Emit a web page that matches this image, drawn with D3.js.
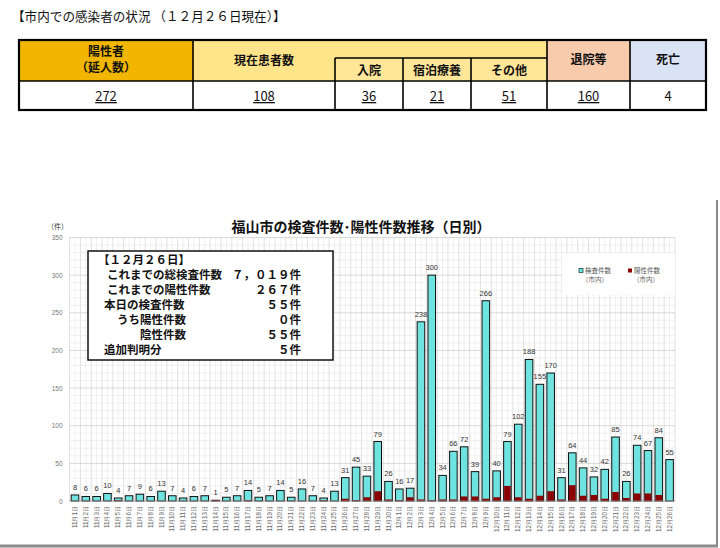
<!DOCTYPE html>
<html><head><meta charset="utf-8">
<script src="https://cdn.jsdelivr.net/npm/d3@7/dist/d3.min.js"></script>
<style>
body{margin:0;background:#fff;}
svg{display:block;font-family:"Noto Sans CJK JP","Noto Sans",sans-serif;}
</style>
</head><body>
<svg id="c" width="720" height="548"></svg>
<script>
// ---- data ----
const dates = ["11月1日","11月2日","11月3日","11月4日","11月5日","11月6日","11月7日","11月8日","11月9日","11月10日",
"11月11日","11月12日","11月13日","11月14日","11月15日","11月16日","11月17日","11月18日","11月19日","11月20日",
"11月21日","11月22日","11月23日","11月24日","11月25日","11月26日","11月27日","11月28日","11月29日","11月30日",
"12月1日","12月2日","12月3日","12月4日","12月5日","12月6日","12月7日","12月8日","12月9日","12月10日",
"12月11日","12月12日","12月13日","12月14日","12月15日","12月16日","12月17日","12月18日","12月19日","12月20日",
"12月21日","12月22日","12月23日","12月24日","12月25日","12月26日"];
const tests = [8,6,6,10,4,7,9,6,13,7,
4,6,7,1,5,7,14,5,7,14,
5,16,7,4,13,31,45,33,79,26,
16,17,238,300,34,66,72,39,266,40,
79,102,188,155,170,31,64,44,32,42,
85,26,74,67,84,55];
const positives = [0,0,0,0,1,0,0,0,0,0,
0,0,0,1,0,0,1,0,0,0,
0,0,0,1,0,3,1,5,13,2,
1,5,2,1,2,2,6,6,3,5,
20,5,3,7,13,2,21,7,8,3,
12,4,10,10,8,0];
const yTicks = [0,50,100,150,200,250,300,350];

const pageTitle = "【市内での感染者の状況 （１２月２６日現在）】";
const tableHeaders = ["陽性者","現在患者数","入院","宿泊療養","その他","退院等","死亡"];
const tableValues = ["272","108","36","21","51","160","4"];

const infoLabels = ["【１２月２６日】","これまでの総検査件数","これまでの陽性件数","本日の検査件数","うち陽性件数","陰性件数","追加判明分"];
const infoValues = ["","７，０１９件","２６７件","５５件","０件","５５件","５件"];
const infoIndent = [98,107,107,104,117,140,104];

const chartTitle = "福山市の検査件数･陽性件数推移（日別）";
const legendNames = ["検査件数","陽性件数"];

// ---- drawing ----
const svg = d3.select("#c");

svg.append("text").attr("x",12).attr("y",21).attr("font-size",12.6).attr("fill","#111").text(pageTitle);

// table
const T = {top:40, sub:58, hdr:81, bot:110};
const cols = [19,193,335,403,471,547,630,706];
const g = svg.append("g");
const cell = (x0,x1,y0,y1,fill)=>g.append("rect").attr("x",x0).attr("y",y0).attr("width",x1-x0).attr("height",y1-y0).attr("fill",fill);
cell(cols[0],cols[1],T.top,T.hdr,"#F2B600");
cell(cols[1],cols[5],T.top,T.hdr,"#FFE48A");
cell(cols[2],cols[5],T.sub,T.hdr,"#FFE699");
cell(cols[5],cols[6],T.top,T.hdr,"#F8CBAD");
cell(cols[6],cols[7],T.top,T.hdr,"#DAE3F3");
cell(cols[0],cols[7],T.hdr,T.bot,"#fff");
const ln = (x1,y1,x2,y2,w)=>g.append("line").attr("x1",x1).attr("y1",y1).attr("x2",x2).attr("y2",y2).attr("stroke","#000").attr("stroke-width",w);
[cols[1],cols[5],cols[6]].forEach(x=>ln(x,T.top,x,T.bot,1.6));
[cols[2],cols[3],cols[4]].forEach(x=>ln(x,T.sub,x,T.bot,1.6));
ln(cols[2],T.sub,cols[5],T.sub,1.6);
ln(cols[0],T.hdr,cols[7],T.hdr,1.6);
g.append("rect").attr("x",cols[0]).attr("y",T.top).attr("width",cols[7]-cols[0]).attr("height",T.bot-T.top)
  .attr("fill","none").attr("stroke","#000").attr("stroke-width",2.2);
const tt = (x,y,s,opt={})=>g.append("text").attr("x",x).attr("y",y).attr("text-anchor","middle")
  .attr("font-size",opt.fs||12).attr("font-weight",opt.fw||"normal").attr("fill","#111")
  .attr("text-decoration",opt.u?"underline":null).text(s);
tt((cols[0]+cols[1])/2,56,tableHeaders[0],{fw:"bold"});
tt((cols[0]+cols[1])/2,72,"（延人数）",{fw:"bold"});
tt((cols[1]+cols[2])/2,65,tableHeaders[1],{fw:"bold"});
tt((cols[2]+cols[3])/2,75,tableHeaders[2],{fw:"bold"});
tt((cols[3]+cols[4])/2,75,tableHeaders[3],{fw:"bold"});
tt((cols[4]+cols[5])/2,75,tableHeaders[4],{fw:"bold"});
tt((cols[5]+cols[6])/2,64,tableHeaders[5],{fw:"bold"});
tt((cols[6]+cols[7])/2,64,tableHeaders[6],{fw:"bold"});
const valX = [(cols[0]+cols[1])/2,(cols[1]+cols[2])/2,(cols[2]+cols[3])/2,(cols[3]+cols[4])/2,(cols[4]+cols[5])/2,(cols[5]+cols[6])/2,(cols[6]+cols[7])/2];
tableValues.forEach((v,i)=>tt(valX[i],101,v,{fs:13,u:i<6}));

// chart
const P = {l:69.6, r:675, t:237.5, b:501};
const x = d3.scaleBand().domain(dates).range([P.l,P.r]).paddingInner(0.3).paddingOuter(0.15);
const y = d3.scaleLinear().domain([0,350]).range([P.b,P.t]);

// grid
const grid = svg.append("g");
const vLines = d3.range(0, dates.length*2+1).map(i=>P.l + i*(P.r-P.l)/(dates.length*2));
grid.selectAll("line.v").data(vLines).join("line").attr("x1",d=>d).attr("x2",d=>d).attr("y1",P.t).attr("y2",P.b)
  .attr("stroke",(d,i)=>i%2===0?"#d8d8d8":"#ececec").attr("stroke-width",0.8);
const hMinor = d3.range(0,351,10);
grid.selectAll("line.h").data(hMinor).join("line").attr("x1",P.l).attr("x2",P.r).attr("y1",d=>y(d)).attr("y2",d=>y(d))
  .attr("stroke",d=>d%50===0?"#cfcfcf":"#ebebeb").attr("stroke-width",0.8);

// y axis labels
const yAxis = d3.axisLeft(y).tickValues(yTicks).tickSize(0).tickPadding(7);
const ya = svg.append("g").attr("transform",`translate(${P.l},0)`).call(yAxis);
ya.select(".domain").remove();
ya.selectAll("text").attr("font-size",6.5).attr("fill","#777").attr("font-family","Liberation Sans, sans-serif");

svg.append("text").attr("x",47).attr("y",229).attr("font-size",7).attr("fill","#333").text("（件）");

// title
svg.append("text").attr("x",361).attr("y",232).attr("text-anchor","middle").attr("font-size",14).attr("font-weight","bold").attr("fill","#111").text(chartTitle);

// legend box
svg.append("rect").attr("x",562).attr("y",253).attr("width",113).attr("height",42).attr("fill","#fff");
const lg = svg.append("g");
lg.append("rect").attr("x",579).attr("y",268.5).attr("width",4).attr("height",4).attr("fill","#6FE3DF").attr("stroke","#1a4a4a").attr("stroke-width",0.8);
lg.append("text").attr("x",585).attr("y",273).attr("font-size",6.5).attr("fill","#555").text(legendNames[0]);
lg.append("text").attr("x",582).attr("y",282).attr("font-size",6.5).attr("fill","#666").text("（市内）");
lg.append("rect").attr("x",628).attr("y",268.5).attr("width",4).attr("height",4).attr("fill","#8B0000");
lg.append("text").attr("x",634).attr("y",273).attr("font-size",6.5).attr("fill","#555").text(legendNames[1]);
lg.append("text").attr("x",633).attr("y",282).attr("font-size",6.5).attr("fill","#666").text("（市内）");

// info box
const ib = svg.append("g");
ib.append("rect").attr("x",88).attr("y",251).attr("width",245).attr("height",109).attr("fill","#fff").attr("stroke","#111").attr("stroke-width",1.5);
infoLabels.forEach((s,i)=>{
  ib.append("text").attr("x",infoIndent[i]).attr("y",264+i*15).attr("font-size",11.5).attr("font-weight","bold").attr("fill","#111").text(s);
  if(infoValues[i]) ib.append("text").attr("x",301).attr("y",264+i*15).attr("text-anchor","end").attr("font-size",11.5).attr("font-weight","bold").attr("fill","#111").text(infoValues[i]);
});

// bars
svg.append("g").selectAll("rect").data(dates).join("rect")
  .attr("x",d=>x(d)).attr("width",x.bandwidth())
  .attr("y",(d,i)=>y(tests[i])).attr("height",(d,i)=>y(0)-y(tests[i]))
  .attr("fill","#6FE3DF").attr("stroke","#111").attr("stroke-width",1);
svg.append("g").selectAll("rect").data(dates).join("rect")
  .attr("x",d=>x(d)+0.5).attr("width",x.bandwidth()-1)
  .attr("y",(d,i)=>y(positives[i])).attr("height",(d,i)=>y(0)-y(positives[i]))
  .attr("fill","#8B0000").attr("stroke","none");

// baseline
svg.append("line").attr("x1",P.l).attr("x2",P.r).attr("y1",P.b).attr("y2",P.b).attr("stroke","#999").attr("stroke-width",0.8);

// data labels
svg.append("g").selectAll("text").data(dates).join("text")
  .attr("x",d=>x(d)+x.bandwidth()/2).attr("y",(d,i)=>y(tests[i])-5)
  .attr("text-anchor","middle").attr("font-size",7.5).attr("fill","#333").attr("font-family","Liberation Sans, sans-serif")
  .text((d,i)=>tests[i]);

// x labels (rotated)
const xAxis = d3.axisBottom(x).tickSize(0).tickPadding(0);
const xa = svg.append("g").attr("transform",`translate(0,${P.b})`).call(xAxis);
xa.select(".domain").remove();
xa.selectAll("text").attr("transform","rotate(-90)").attr("text-anchor","end")
  .attr("x",-5).attr("y",0).attr("dy","0.32em").attr("font-size",6.3).attr("fill","#666");

// frame
svg.append("line").attr("x1",717).attr("x2",717).attr("y1",200).attr("y2",546).attr("stroke","#8a8a8a").attr("stroke-width",2);
svg.append("line").attr("x1",0).attr("x2",718).attr("y1",546).attr("y2",546).attr("stroke","#8a8a8a").attr("stroke-width",3);
</script>
</body></html>
